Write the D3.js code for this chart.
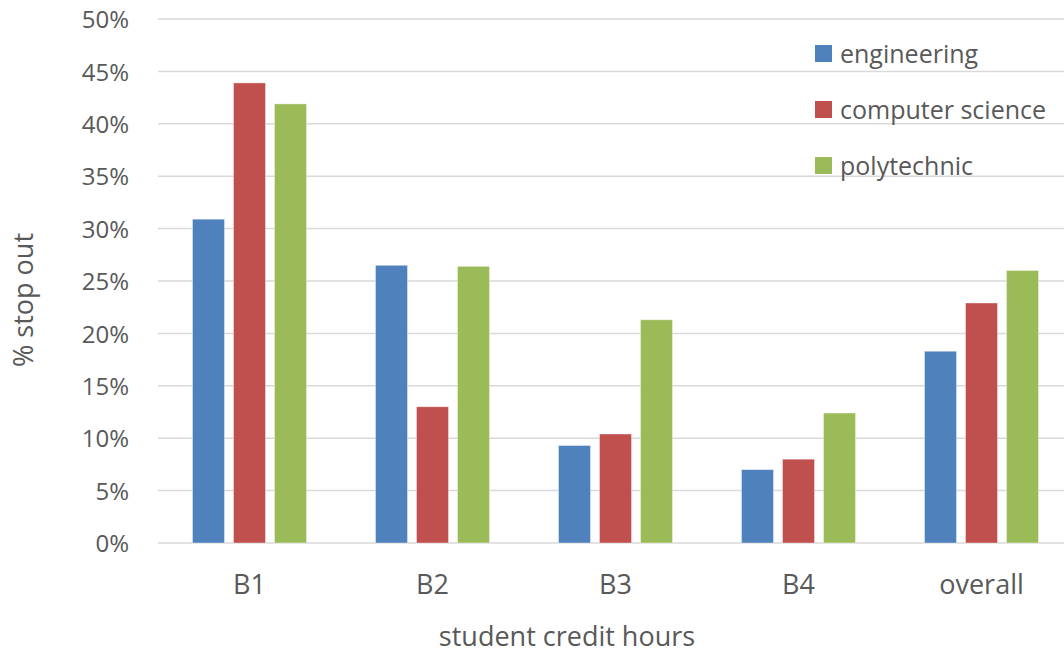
<!DOCTYPE html>
<html>
<head>
<meta charset="utf-8">
<script src="https://cdn.jsdelivr.net/npm/d3@7"></script>
<style>
  body { margin: 0; background: #fff; }
  text { font-family: "Open Sans", "Liberation Sans", sans-serif; fill: #595959; }
</style>
</head>
<body>
<div id="chart"></div>
<script>
// Data
const categories = ["B1", "B2", "B3", "B4", "overall"];
const seriesNames = ["engineering", "computer science", "polytechnic"];
const engineering = [30.9, 26.5, 9.3, 7.0, 18.3];
const computerScience = [43.9, 13.0, 10.4, 8.0, 22.9];
const polytechnic = [41.9, 26.4, 21.3, 12.4, 26.0];
const yTicks = [0, 5, 10, 15, 20, 25, 30, 35, 40, 45, 50];

const seriesValues = [engineering, computerScience, polytechnic];
const colors = ["#4f81bd", "#c0504d", "#9bbb59"];

// Configuration
const W = 1064, H = 655;
const plot = {left: 158, right: 1073, top: 19, bottom: 543};

const svg = d3.select("#chart")
    .append("svg")
    .attr("width", W)
    .attr("height", H);

// Scales
const x = d3.scaleBand()
    .domain(categories)
    .range([plot.left, plot.right]);

const y = d3.scaleLinear()
    .domain([0, 50])
    .range([plot.bottom, plot.top]);

const barW = 32, barGap = 9;
const x1 = d3.scaleBand()
    .domain(seriesNames)
    .range([0, barW * 3 + barGap * 2])
    .paddingInner(barGap / (barW + barGap));
const groupOffset = (x.bandwidth() - x1.range()[1]) / 2;

// Gridlines
svg.append("g")
    .selectAll("line")
    .data(yTicks)
    .enter()
    .append("line")
    .attr("x1", plot.left)
    .attr("x2", W)
    .attr("y1", d => y(d))
    .attr("y2", d => y(d))
    .attr("stroke", "#d9d9d9")
    .attr("stroke-width", 1.5);

// Y axis labels
const yAxis = svg.append("g")
    .attr("transform", `translate(${plot.left - 29},0)`)
    .call(d3.axisLeft(y).tickValues(yTicks).tickSize(0).tickPadding(0).tickFormat(d => d + "%"));
yAxis.select(".domain").remove();
yAxis.selectAll("text")
    .attr("font-size", 24)
    .attr("font-family", null)
    .attr("fill", null)
    .attr("dy", "0.36em");

// X axis labels
const xAxis = svg.append("g")
    .attr("transform", "translate(0,594)")
    .call(d3.axisBottom(x).tickSize(0).tickPadding(0));
xAxis.select(".domain").remove();
xAxis.selectAll("text")
    .attr("y", 0)
    .attr("dy", 0)
    .attr("font-size", 27)
    .attr("font-family", null)
    .attr("fill", null);

// Bars
const groups = svg.selectAll(".bar-group")
    .data(categories)
    .enter()
    .append("g")
    .attr("class", "bar-group")
    .attr("transform", d => `translate(${x(d) + groupOffset},0)`);

groups.selectAll("rect")
    .data((d, i) => seriesNames.map((s, j) => ({series: s, value: seriesValues[j][i], color: colors[j]})))
    .enter()
    .append("rect")
    .attr("x", d => x1(d.series))
    .attr("y", d => y(d.value))
    .attr("width", x1.bandwidth())
    .attr("height", d => y(0) - y(d.value))
    .attr("fill", d => d.color)
    .attr("stroke", "#fff")
    .attr("stroke-opacity", 0.5)
    .attr("stroke-width", 0.75);

// Legend
const legend = svg.append("g")
    .attr("transform", "translate(815,45)");

const item = legend.selectAll(".legend-item")
    .data(seriesNames)
    .enter()
    .append("g")
    .attr("class", "legend-item")
    .attr("transform", (d, i) => `translate(0,${i * 56})`);

item.append("rect")
    .attr("width", 17)
    .attr("height", 17)
    .attr("fill", (d, i) => colors[i]);

item.append("text")
    .attr("x", 25)
    .attr("y", 8.5)
    .attr("dy", "0.36em")
    .attr("font-size", 25)
    .text(d => d);

// Axis titles
svg.append("text")
    .attr("x", 567)
    .attr("y", 646)
    .attr("text-anchor", "middle")
    .attr("font-size", 27)
    .text("student credit hours");

svg.append("text")
    .attr("transform", "translate(23,300) rotate(-90)")
    .attr("dy", "0.36em")
    .attr("text-anchor", "middle")
    .attr("font-size", 27)
    .text("% stop out");
</script>
</body>
</html>
